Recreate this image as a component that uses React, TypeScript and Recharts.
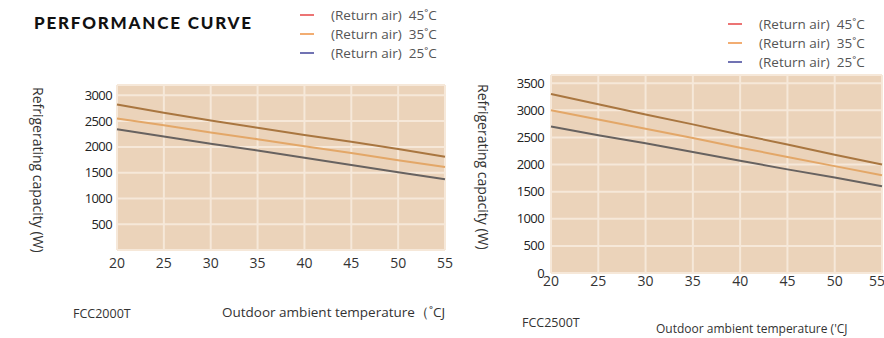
import { LineChart, Line, XAxis, YAxis, CartesianGrid } from 'recharts';

// outdoor ambient temperature (°C)
const temps = [20, 25, 30, 35, 40, 45, 50, 55];

// FCC2000T refrigerating capacity (W) by return air temperature
const fcc2000_45 = [2820, 2660, 2510, 2370, 2230, 2100, 1960, 1810];
const fcc2000_35 = [2550, 2420, 2280, 2150, 2010, 1880, 1740, 1610];
const fcc2000_25 = [2340, 2200, 2060, 1930, 1790, 1650, 1510, 1370];

// FCC2500T refrigerating capacity (W)
const fcc2500_45 = [3300, 3110, 2920, 2740, 2550, 2370, 2180, 2000];
const fcc2500_35 = [3000, 2830, 2660, 2490, 2310, 2140, 1970, 1800];
const fcc2500_25 = [2700, 2540, 2390, 2230, 2070, 1910, 1760, 1600];

const leftTicks = [500, 1000, 1500, 2000, 2500, 3000];
const rightTicks = [0, 500, 1000, 1500, 2000, 2500, 3000, 3500];

const legendItems = [
  { label: '(Return air)  45˚C', color: '#ec7474' },
  { label: '(Return air)  35˚C', color: '#f2ad72' },
  { label: '(Return air)  25˚C', color: '#7173b3' },
];

const FONT = '"Open Sans", sans-serif';

const build = (a: number[], b: number[], c: number[]) =>
  temps.map((t, i) => ({ t, r45: a[i], r35: b[i], r25: c[i] }));

const leftData = build(fcc2000_45, fcc2000_35, fcc2000_25);
const rightData = build(fcc2500_45, fcc2500_35, fcc2500_25);

function Legend({ left, top }: { left: number; top: number }) {
  return (
    <div style={{ position: 'absolute', left, top, fontFamily: FONT, fontSize: 13.5, color: '#555' }}>
      {legendItems.map((it) => (
        <div key={it.label} style={{ display: 'flex', alignItems: 'center', height: 19 }}>
          <span style={{ width: 14, height: 2, background: it.color, display: 'inline-block', marginRight: 17 }} />
          <span style={{ whiteSpace: 'pre' }}>{it.label}</span>
        </div>
      ))}
    </div>
  );
}

function Curves() {
  return [
    <Line key="a" dataKey="r45" type="linear" stroke="#a97640" strokeWidth={2} dot={false} isAnimationActive={false} />,
    <Line key="b" dataKey="r35" type="linear" stroke="#e3a768" strokeWidth={2} dot={false} isAnimationActive={false} />,
    <Line key="c" dataKey="r25" type="linear" stroke="#676260" strokeWidth={2} dot={false} isAnimationActive={false} />,
  ];
}

const vLabel = (left: number, top: number, height: number) => (
  <div
    style={{
      position: 'absolute',
      left,
      top,
      height,
      writingMode: 'vertical-rl',
      whiteSpace: 'nowrap',
      fontFamily: FONT,
      fontSize: 14,
      color: '#333',
      textAlign: 'center',
    }}
  >
    Refrigerating capacity (W)
  </div>
);

const caption = (left: number, top: number, text: string, size: number) => (
  <div
    style={{
      position: 'absolute',
      left,
      top,
      whiteSpace: 'nowrap',
      fontFamily: FONT,
      fontSize: size,
      color: '#333',
    }}
  >
    {text}
  </div>
);

export default function App() {
  return (
    <div style={{ position: 'absolute', left: 0, top: 0, width: 884, height: 338, background: '#fff', overflow: 'hidden' }}>
      <div
        style={{
          position: 'absolute',
          left: 34,
          top: 12,
          fontFamily: 'Lato, sans-serif',
          fontWeight: 900,
          fontSize: 17,
          letterSpacing: 1.8,
          color: '#111',
        }}
      >
        PERFORMANCE CURVE
      </div>
      <Legend left={300} top={5} />
      <Legend left={728} top={14} />

      {vLabel(29, 78, 184)}
      {vLabel(474, 74, 186)}

      <div style={{ position: 'absolute', left: 0, top: 0 }}>
        <LineChart width={460} height={280} data={leftData} margin={{ top: 85, right: 15, bottom: 0, left: 0 }}>
          <CartesianGrid fill="#ebd3ba" stroke="#f6e8d9" strokeWidth={2} />
          <XAxis
            dataKey="t"
            type="number"
            domain={[20, 55]}
            ticks={temps}
            axisLine={false}
            tickLine={false}
            height={30}
            tick={{ fontSize: 14, fill: '#333', fontFamily: FONT }}
          />
          <YAxis
            type="number"
            domain={[0, 3200]}
            ticks={leftTicks}
            axisLine={false}
            tickLine={false}
            tickSize={3}
            tickMargin={2}
            width={117}
            tick={{ fontSize: 13, fill: '#222', fontFamily: FONT, letterSpacing: -0.6 }}
          />
          {Curves()}
        </LineChart>
      </div>

      <div style={{ position: 'absolute', left: 460, top: 0 }}>
        <LineChart width={424} height={300} data={rightData} margin={{ top: 75, right: 2, bottom: 0, left: 0 }}>
          <CartesianGrid fill="#ebd3ba" stroke="#f6e8d9" strokeWidth={2} />
          <XAxis
            dataKey="t"
            type="number"
            domain={[20, 55]}
            ticks={temps}
            axisLine={false}
            tickLine={false}
            tickSize={0}
            tickMargin={3}
            height={27}
            tick={{ fontSize: 14, fill: '#333', fontFamily: FONT }}
          />
          <YAxis
            type="number"
            domain={[0, 3650]}
            ticks={rightTicks}
            axisLine={false}
            tickLine={false}
            tickSize={3}
            tickMargin={4}
            width={91}
            tick={{ fontSize: 13, fill: '#222', fontFamily: FONT, letterSpacing: -0.6 }}
          />
          {Curves()}
        </LineChart>
      </div>

      {caption(73, 305, 'FCC2000T', 12.5)}
      {caption(222, 303, 'Outdoor ambient temperature（˚CJ', 13.5)}
      {caption(522, 314, 'FCC2500T', 12.5)}
      {caption(656, 320, "Outdoor ambient temperature ('CJ", 12)}
    </div>
  );
}
